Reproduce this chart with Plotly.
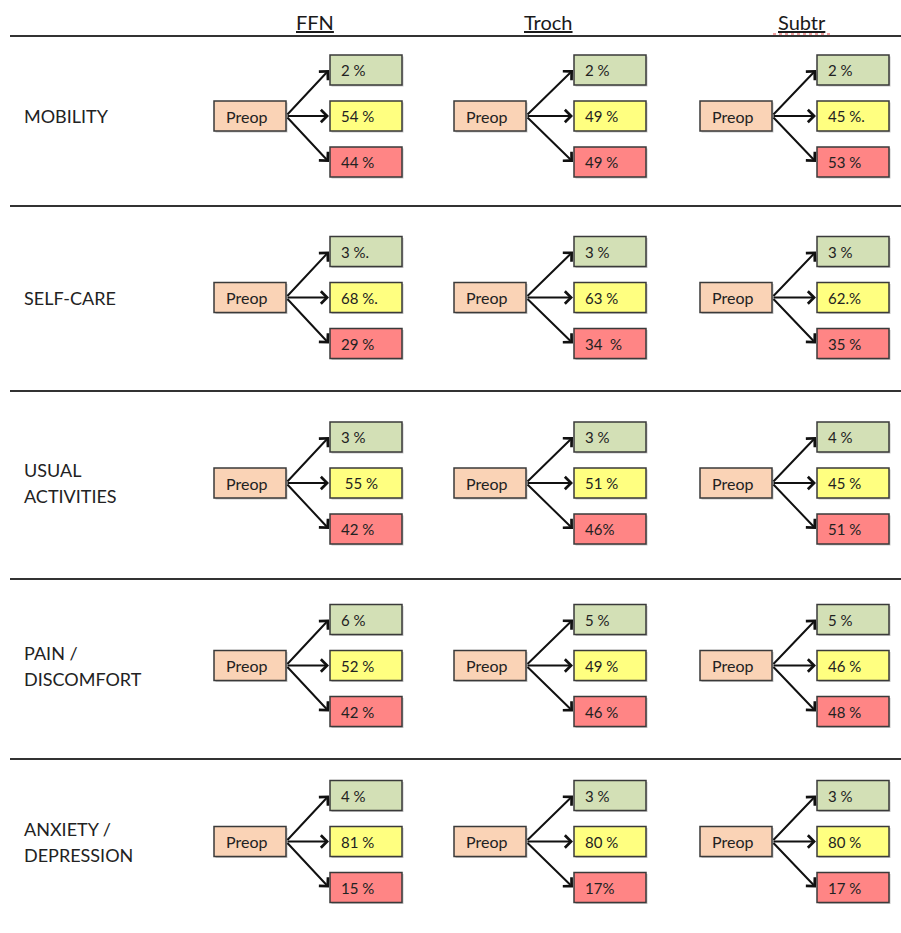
import plotly.graph_objects as go

# ---------------- data ----------------
methods = ["FFN", "Troch", "Subtr"]
dimensions = [["MOBILITY"], ["SELF-CARE"], ["USUAL", "ACTIVITIES"],
              ["PAIN /", "DISCOMFORT"], ["ANXIETY /", "DEPRESSION"]]
origin_label = "Preop"
# outcome order per dimension: improved (green), unchanged (yellow), worse (red)
ffn_labels = [["2 %", "54 %", "44 %"],
              ["3 %.", "68 %.", "29 %"],
              ["3 %", " 55 %", "42 %"],
              ["6 %", "52 %", "42 %"],
              ["4 %", "81 %", "15 %"]]
troch_labels = [["2 %", "49 %", "49 %"],
                ["3 %", "63 %", "34  %"],
                ["3 %", "51 %", "46%"],
                ["5 %", "49 %", "46 %"],
                ["3 %", "80 %", "17%"]]
subtr_labels = [["2 %", "45 %.", "53 %"],
                ["3 %", "62.%", "35 %"],
                ["4 %", "45 %", "51 %"],
                ["5 %", "46 %", "48 %"],
                ["3 %", "80 %", "17 %"]]
all_labels = [ffn_labels, troch_labels, subtr_labels]

# ---------------- layout / style ----------------
W, H = 901, 933
row_center = [116, 297.5, 483, 665.5, 841.5]
separators = [36, 206, 391, 579, 759]
preop_left = [214, 454, 700]
box_left = [330, 574, 817]
header_x = [315, 548, 802]
box_w, box_h = 72, 30
branch_dy = 46
label_line_gap = 26
outcome_fill = ["#D3E0B6", "#FFFF80", "#FF8585"]
preop_fill = "#FAD3B6"
edge = "#3A3A3A"
font_fam = "Lato, 'Open Sans', sans-serif"

fig = go.Figure()
shapes, annos = [], []

# separators
for y in separators:
    shapes.append(dict(type="line", xref="x", yref="y", x0=10, x1=W, y0=y, y1=y,
                       line=dict(color="#333333", width=2)))

# headers
for c, m in enumerate(methods):
    annos.append(dict(x=header_x[c], y=22, xref="x", yref="y", text=f"<u>{m}</u>",
                      showarrow=False, font=dict(size=20, color="#1a1a1a", family=font_fam),
                      xanchor="center", yanchor="middle"))
# spell-check squiggle under Subtr
shapes.append(dict(type="line", xref="x", yref="y", x0=773, x1=832, y0=34, y1=34,
                   line=dict(color="#E04040", width=1, dash="dot")))

for r, dim_lines in enumerate(dimensions):
    yc = row_center[r]
    n = len(dim_lines)
    for i, line in enumerate(dim_lines):
        ly = yc + (i - (n - 1) / 2) * label_line_gap
        annos.append(dict(x=22, y=ly, xref="x", yref="y", text=line, showarrow=False,
                          align="left", xanchor="left", yanchor="middle",
                          font=dict(size=18, color="#222222", family=font_fam)))
    for c in range(len(methods)):
        px0 = preop_left[c]
        # shadow + preop box
        shapes.append(dict(type="rect", xref="x", yref="y", x0=px0 + 1.5, x1=px0 + box_w + 1.5,
                           y0=yc - box_h / 2 + 1.5, y1=yc + box_h / 2 + 1.5,
                           fillcolor="#C8C8C8", line=dict(width=0), layer="below"))
        shapes.append(dict(type="rect", xref="x", yref="y", x0=px0, x1=px0 + box_w,
                           y0=yc - box_h / 2, y1=yc + box_h / 2,
                           fillcolor=preop_fill, line=dict(color=edge, width=1.5)))
        annos.append(dict(x=px0 + 10, y=yc, xref="x", yref="y", text=origin_label,
                          showarrow=False, xanchor="left", yanchor="middle",
                          font=dict(size=16, color="#222222", family=font_fam)))
        for k, lab in enumerate(all_labels[c][r]):
            by = yc + (k - 1) * branch_dy
            bx0 = box_left[c]
            shapes.append(dict(type="rect", xref="x", yref="y", x0=bx0 + 1.5, x1=bx0 + box_w + 1.5,
                               y0=by - box_h / 2 + 1.5, y1=by + box_h / 2 + 1.5,
                               fillcolor="#C8C8C8", line=dict(width=0), layer="below"))
            shapes.append(dict(type="rect", xref="x", yref="y", x0=bx0, x1=bx0 + box_w,
                               y0=by - box_h / 2, y1=by + box_h / 2,
                               fillcolor=outcome_fill[k], line=dict(color=edge, width=1.5)))
            annos.append(dict(x=bx0 + 9, y=by, xref="x", yref="y", text=lab.replace(" ", "&nbsp;"),
                              showarrow=False, xanchor="left", yanchor="middle",
                              font=dict(size=15, color="#222222", family=font_fam)))
            annos.append(dict(x=bx0 - 1, y=by, ax=px0 + box_w, ay=yc,
                              xref="x", yref="y", axref="x", ayref="y", text="",
                              showarrow=True, arrowhead=4, arrowsize=1.2, arrowwidth=2,
                              arrowcolor="#111111", standoff=0, startstandoff=0))

fig.update_layout(width=W, height=H, autosize=False,
                  margin=dict(l=0, r=0, t=0, b=0),
                  paper_bgcolor="white", plot_bgcolor="white",
                  xaxis=dict(range=[0, W], visible=False, fixedrange=True),
                  yaxis=dict(range=[H, 0], visible=False, fixedrange=True),
                  shapes=shapes, annotations=annos, showlegend=False)

fig.write_html("out.html", config={"displayModeBar": False},
               post_script="document.body.style.margin='0';")
